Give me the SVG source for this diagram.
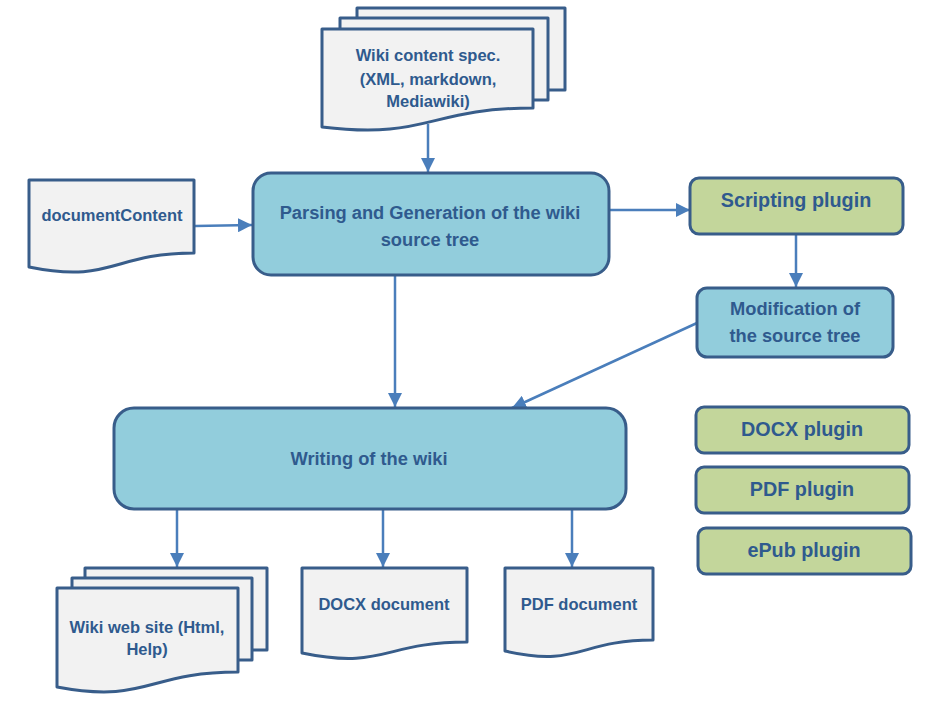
<svg xmlns="http://www.w3.org/2000/svg" width="941" height="703" viewBox="0 0 941 703">
<defs>
<style>
.doc{fill:#F2F2F2;stroke:#385D8A;stroke-width:3;stroke-linejoin:round}
.blue{fill:#92CDDC;stroke:#385D8A;stroke-width:3}
.green{fill:#C3D69B;stroke:#385D8A;stroke-width:3}
.t{font-family:"Liberation Sans",Arial,sans-serif;font-weight:bold;fill:#2F5A8E;text-anchor:middle;font-size:16.5px}
.tm{font-size:18.3px}
.tl{font-size:19.8px}
.arr{fill:none;stroke:#4A7EBB;stroke-width:2.5;marker-end:url(#ah)}
</style>
<marker id="ah" markerUnits="userSpaceOnUse" markerWidth="16" markerHeight="14" refX="14" refY="7" orient="auto">
<path d="M0,0 L14,7 L0,14 Z" fill="#4A7EBB"/>
</marker>
</defs>
<rect width="941" height="703" fill="#FFFFFF"/>

<g id="connectors">
<line class="arr" x1="428" y1="124" x2="428" y2="172"/>
<line class="arr" x1="195" y1="226" x2="252" y2="225"/>
<line class="arr" x1="609" y1="210" x2="690" y2="210"/>
<line class="arr" x1="796" y1="235" x2="796" y2="287"/>
<line class="arr" x1="697" y1="323" x2="512" y2="408"/>
<line class="arr" x1="395" y1="276" x2="395" y2="407"/>
<line class="arr" x1="177" y1="510" x2="177" y2="567"/>
<line class="arr" x1="383" y1="510" x2="383" y2="567"/>
<line class="arr" x1="572" y1="510" x2="572" y2="567"/>
</g>

<g id="wiki-content-spec">
<rect class="doc" x="357" y="8" width="208" height="82"/>
<rect class="doc" x="340" y="18" width="208" height="82"/>
<path class="doc" d="M322,29 H533 V108 C428,108 428,140 322,127 Z"/>
<text class="t" x="428" y="61">Wiki content spec.</text>
<text class="t" x="428" y="85">(XML, markdown,</text>
<text class="t" x="428" y="107">Mediawiki)</text>
</g>

<g id="documentContent">
<path class="doc" d="M29,180 H194 V253 C112,253 112,284 29,267 Z"/>
<text class="t" x="112" y="221">documentContent</text>
</g>

<g id="parsing">
<rect class="blue" x="253" y="173" width="356" height="102" rx="18"/>
<text class="t tm" x="430" y="219">Parsing and Generation of the wiki</text>
<text class="t tm" x="430" y="246">source tree</text>
</g>

<g id="scripting-plugin">
<rect class="green" x="690" y="178" width="213" height="56" rx="9"/>
<text class="t tl" x="796" y="207">Scripting plugin</text>
</g>

<g id="modification">
<rect class="blue" x="697" y="288" width="196" height="69" rx="10"/>
<text class="t tm" x="795" y="315">Modification of</text>
<text class="t tm" x="795" y="342">the source tree</text>
</g>

<g id="writing">
<rect class="blue" x="114" y="408" width="512" height="101" rx="20"/>
<text class="t tm" x="369" y="465">Writing of the wiki</text>
</g>

<g id="wiki-web-site">
<rect class="doc" x="85" y="568" width="182" height="82"/>
<rect class="doc" x="72" y="578" width="180" height="82"/>
<path class="doc" d="M57,588 H238 V672 C147,672 147,704 57,687 Z"/>
<text class="t" x="147" y="633">Wiki web site (Html,</text>
<text class="t" x="147" y="655">Help)</text>
</g>

<g id="docx-document">
<path class="doc" d="M302,568 H467 V642 C384,642 384,670 302,653 Z"/>
<text class="t" x="384" y="610">DOCX document</text>
</g>

<g id="pdf-document">
<path class="doc" d="M505,568 H653 V640 C579,640 579,668 505,651 Z"/>
<text class="t" x="579" y="610">PDF document</text>
</g>

<g id="docx-plugin">
<rect class="green" x="696" y="407" width="213" height="46" rx="8"/>
<text class="t tl" x="802" y="436">DOCX plugin</text>
</g>

<g id="pdf-plugin">
<rect class="green" x="696" y="467" width="213" height="46" rx="8"/>
<text class="t tl" x="802" y="496">PDF plugin</text>
</g>

<g id="epub-plugin">
<rect class="green" x="698" y="528" width="213" height="46" rx="8"/>
<text class="t tl" x="804" y="557">ePub plugin</text>
</g>
</svg>
